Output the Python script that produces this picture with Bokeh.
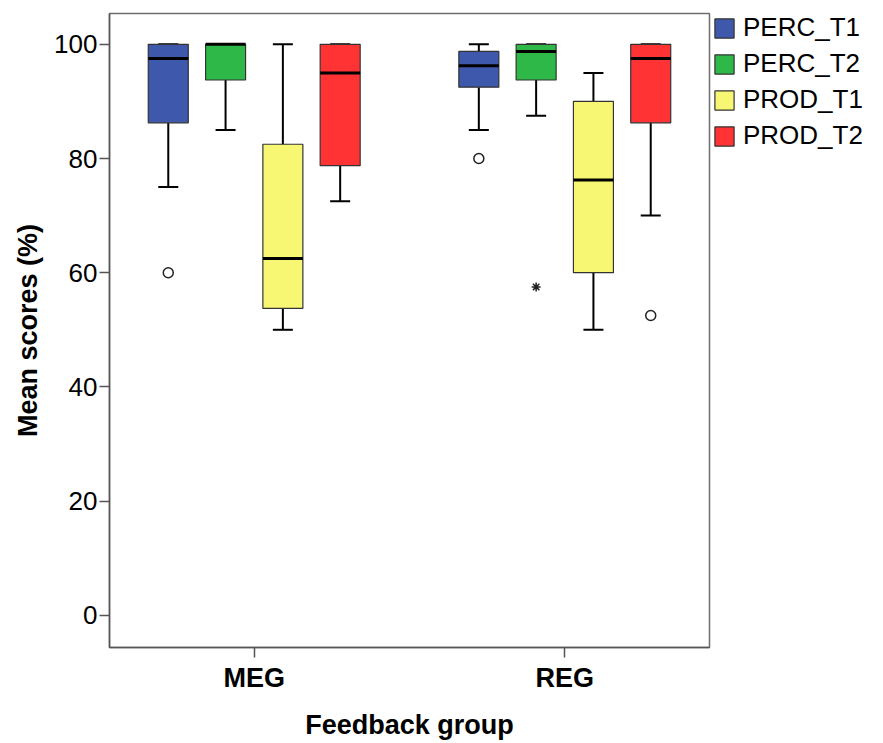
from bokeh.plotting import figure
from bokeh.layouts import row
from bokeh.models import ColumnDataSource, Legend, LegendItem, FixedTicker, Range1d
from bokeh.embed import file_html
from bokeh.resources import INLINE

groups = ["MEG", "REG"]
series = ["PERC_T1", "PERC_T2", "PROD_T1", "PROD_T2"]
colors = ["#3E58AC", "#2EB848", "#F8F773", "#FF3333"]

# values per series: [MEG, REG]
lower_whisker = {"PERC_T1": [75, 85], "PERC_T2": [85, 87.5], "PROD_T1": [50, 50], "PROD_T2": [72.5, 70]}
q1 = {"PERC_T1": [86.25, 92.5], "PERC_T2": [93.75, 93.75], "PROD_T1": [53.75, 60], "PROD_T2": [78.75, 86.25]}
median = {"PERC_T1": [97.5, 96.25], "PERC_T2": [100, 98.75], "PROD_T1": [62.5, 76.25], "PROD_T2": [95, 97.5]}
q3 = {"PERC_T1": [100, 98.75], "PERC_T2": [100, 100], "PROD_T1": [82.5, 90], "PROD_T2": [100, 100]}
upper_whisker = {"PERC_T1": [100, 100], "PERC_T2": [100, 100], "PROD_T1": [100, 95], "PROD_T2": [100, 100]}

outlier_group = ["MEG", "REG", "REG"]
outlier_series = ["PERC_T1", "PERC_T1", "PROD_T2"]
outlier_value = [60, 80, 52.5]

extreme_group = ["REG"]
extreme_series = ["PERC_T2"]
extreme_value = [57.5]

y_ticks = [0, 20, 40, 60, 80, 100]

# layout constants
step = 0.1845
box_w = 0.1288
cap_w = 0.0644
offsets = {s: (i - 1.5) * step for i, s in enumerate(series)}
gpos = {g: i + 1 for i, g in enumerate(groups)}

p = figure(width=712, height=743, output_backend="svg", toolbar_location=None,
           x_range=Range1d(0.534, 2.466), y_range=Range1d(-5.65, 105.4),
           min_border_left=109, min_border_top=13, min_border_right=3, min_border_bottom=96)
p.grid.visible = False
p.outline_line_color = "#6E6E6E"
p.outline_line_width = 1.5
p.background_fill_color = "white"
p.border_fill_color = "white"

for s, c in zip(series, colors):
    xs = [gpos[g] + offsets[s] for g in groups]
    src = ColumnDataSource(dict(
        x=xs,
        left=[x - box_w / 2 for x in xs], right=[x + box_w / 2 for x in xs],
        cl=[x - cap_w / 2 for x in xs], cr=[x + cap_w / 2 for x in xs],
        lw=lower_whisker[s], q1=q1[s], med=median[s], q3=q3[s], uw=upper_whisker[s],
    ))
    p.segment(x0="x", y0="q3", x1="x", y1="uw", source=src, line_color="black", line_width=2)
    p.segment(x0="x", y0="lw", x1="x", y1="q1", source=src, line_color="black", line_width=2)
    p.segment(x0="cl", y0="uw", x1="cr", y1="uw", source=src, line_color="black", line_width=2)
    p.segment(x0="cl", y0="lw", x1="cr", y1="lw", source=src, line_color="black", line_width=2)
    p.quad(left="left", right="right", bottom="q1", top="q3", source=src,
           fill_color=c, line_color="#333333", line_width=1.2)
    p.segment(x0="left", y0="med", x1="right", y1="med", source=src, line_color="black", line_width=3)

osrc = ColumnDataSource(dict(
    x=[gpos[g] + offsets[s] for g, s in zip(outlier_group, outlier_series)],
    y=outlier_value))
p.scatter(x="x", y="y", source=osrc, marker="circle", size=10, fill_color="white",
          line_color="#222222", line_width=1.5)

esrc = ColumnDataSource(dict(
    x=[gpos[g] + offsets[s] for g, s in zip(extreme_group, extreme_series)],
    y=extreme_value))
p.scatter(x="x", y="y", source=esrc, marker="asterisk", size=9,
          line_color="#222222", line_width=1.5)

# axes
p.xaxis.ticker = FixedTicker(ticks=[gpos[g] for g in groups])
p.xaxis.major_label_overrides = {gpos[g]: g for g in groups}
p.yaxis.ticker = FixedTicker(ticks=y_ticks)
for ax in (p.xaxis[0], p.yaxis[0]):
    ax.axis_line_color = "#555555"
    ax.axis_line_width = 1.5
    ax.major_tick_line_color = "#555555"
    ax.major_tick_line_width = 1.5
    ax.major_tick_out = 10
    ax.major_tick_in = 0
    ax.minor_tick_line_color = None
    ax.axis_label_text_font = "Liberation Sans"
    ax.axis_label_text_font_style = "bold"
    ax.axis_label_text_font_size = "27px"
    ax.axis_label_text_color = "black"
    ax.major_label_text_color = "black"

p.xaxis.axis_label = "Feedback group"
p.yaxis.axis_label = "Mean scores (%)"
p.xaxis.major_label_text_font = "Liberation Sans"
p.xaxis.major_label_text_font_style = "bold"
p.xaxis.major_label_text_font_size = "27px"
p.xaxis.major_label_standoff = 5
p.xaxis.axis_label_standoff = 14
p.yaxis.major_label_text_font = "Liberation Sans"
p.yaxis.major_label_text_font_size = "26px"
p.yaxis.major_label_standoff = 2
p.yaxis.axis_label_standoff = 8

# legend panel
pl = figure(width=171, height=743, output_backend="svg", toolbar_location=None,
            x_range=Range1d(0, 1), y_range=Range1d(0, 1),
            min_border_left=0, min_border_top=13, min_border_right=0, min_border_bottom=96)
pl.axis.visible = False
pl.grid.visible = False
pl.outline_line_color = None
pl.border_fill_color = "white"
proxies = []
for s, c in zip(series, colors):
    r = pl.quad(left=[-10], right=[-9], bottom=[-10], top=[-9], fill_color=c,
                line_color="#333333", line_width=1.2)
    proxies.append(r)

legend = Legend(items=[LegendItem(label=s, renderers=[r]) for s, r in zip(series, proxies)],
                location=(0, 496), orientation="vertical",
                label_text_font="Liberation Sans", label_text_font_size="26px",
                label_text_color="black",
                glyph_width=24, glyph_height=24, label_height=24, spacing=5,
                label_standoff=7, padding=0, margin=0,
                border_line_color=None, background_fill_alpha=0)
pl.add_layout(legend, "center")

layout = row(p, pl, spacing=0)
open("out.html", "w").write(file_html(layout, INLINE))
